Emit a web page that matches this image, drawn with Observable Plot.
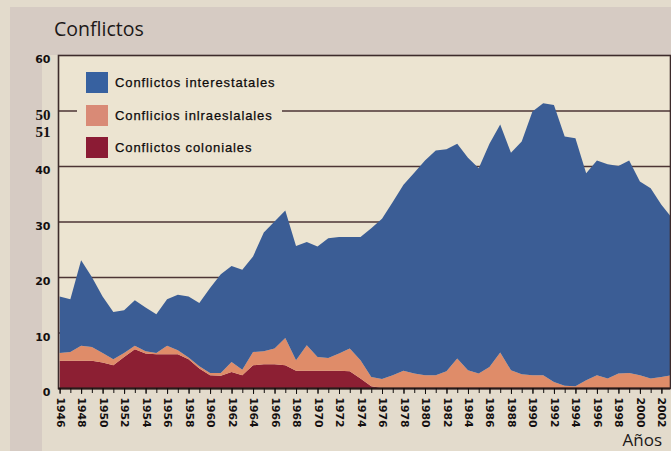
<!DOCTYPE html>
<html>
<head>
<meta charset="utf-8">
<script src="https://cdn.jsdelivr.net/npm/d3@7"></script>
<script src="https://cdn.jsdelivr.net/npm/@observablehq/plot@0.6"></script>
<style>
  html, body { margin: 0; padding: 0; background: #e2dacb; }
  #wrap { position: relative; width: 671px; height: 451px; background: #e3dbcc; overflow: hidden; }
  .band { position: absolute; background: #d6cbc3; }
  #chart { position: absolute; left: 0; top: 0; }
  #title { position: absolute; left: 54px; top: 15px; font: 19.5px "Open Sans", sans-serif; color: #1c1818; white-space: nowrap; }
  #xlabel { position: absolute; right: 9px; top: 431px; font: 17px/17px "Open Sans", sans-serif; color: #1c1818; }
  #legend { position: absolute; left: 77px; top: 64px; width: 205px; height: 96px; background: #ece4d1; overflow: visible; }
  .row { position: absolute; left: 9px; height: 22px; white-space: nowrap; }
  .sw { position: absolute; left: 0; top: 0; width: 22px; height: 21px; }
  .lab { position: absolute; left: 29px; top: 1px; font: 13px "Liberation Sans", Arial, sans-serif; letter-spacing: 0.9px; color: #0d0a0a; line-height: 20px; -webkit-text-stroke: 0.25px #0d0a0a; }
</style>
</head>
<body>
<div id="wrap">
  <div class="band" style="left:10px;top:7px;width:661px;height:48px"></div>
  <div class="band" style="left:10px;top:7px;width:32px;height:444px"></div>
  <div id="chart"></div>
  <div id="title">Conflictos</div>
  <div id="legend"></div>
  <div id="xlabel">Años</div>
</div>
<script>
// ---- data ----
const years = [1946,1947,1948,1949,1950,1951,1952,1953,1954,1955,1956,1957,1958,1959,1960,1961,1962,1963,1964,1965,1966,1967,1968,1969,1970,1971,1972,1973,1974,1975,1976,1977,1978,1979,1980,1981,1982,1983,1984,1985,1986,1987,1988,1989,1990,1991,1992,1993,1994,1995,1996,1997,1998,1999,2000,2001,2002,2003];

const colonial   = [4.9,4.9,4.9,4.9,4.6,4.1,5.6,7.0,6.2,6.1,6.1,6.1,5.2,3.5,2.3,2.2,2.9,2.3,4.1,4.3,4.3,4.1,3.1,3.1,3.1,3.1,3.1,3.0,1.7,0.3,0,0,0,0,0,0,0,0,0,0,0,0,0,0,0,0,0,0,0,0,0,0,0,0,0,0,0,0];
const intrastate = [1.4,1.6,2.7,2.5,1.7,1.1,0.7,0.6,0.4,0.2,1.5,0.7,0.3,0.4,0.4,0.5,1.8,1.0,2.4,2.3,2.8,4.9,1.9,4.6,2.5,2.3,3.1,4.1,3.3,1.7,1.6,2.3,3.1,2.6,2.3,2.3,3.0,5.3,3.2,2.6,3.8,6.4,3.2,2.5,2.3,2.3,1.1,0.4,0.3,1.4,2.3,1.7,2.6,2.7,2.3,1.7,2.0,2.3];
const interstate = [10.2,9.5,15.4,12.6,10.2,8.5,7.7,8.2,7.9,7.0,8.4,10.0,11.0,11.4,15.3,17.8,17.3,18.0,17.2,21.4,22.9,23.0,20.6,18.6,19.9,21.6,21.0,20.1,22.2,26.8,28.9,31.2,33.5,36.2,38.7,40.5,40.0,38.7,38.3,37.0,40.2,41.1,39.2,41.9,47.5,49.0,49.9,44.9,44.7,37.3,38.7,38.6,37.4,38.3,34.9,34.3,31.0,28.3];

const seriesNames  = ["Conflictos interestatales", "Conflicios inlraeslalales", "Conflictos coloniales"];
const seriesColors = ["#3b5d95", "#df8c69", "#8c1f33"];
const swatchColors = ["#3761a0", "#d98a76", "#8b1b34"];
const stackOrder   = ["Conflictos coloniales", "Conflicios inlraeslalales", "Conflictos interestatales"];

const xTickLabels = [1946,1948,1950,1952,1954,1956,1958,1960,1962,1964,1966,1968,1970,1972,1974,1976,1978,1980,1982,1984,1986,1988,1990,1992,1994,1996,1998,2000,2002];
const yTickLabels = [0,10,20,30,40,60];
const yDoubleLabel = [{value: 50, text: "50\n51"}];
const gridValues = [10,20,30,40,50];

// ---- table for the library ----
const table = [];
years.forEach((yr, i) => {
  table.push({year: yr, series: seriesNames[2], value: colonial[i]});
  table.push({year: yr, series: seriesNames[1], value: intrastate[i]});
  table.push({year: yr, series: seriesNames[0], value: interstate[i]});
});

const chart = Plot.plot({
  width: 671,
  height: 451,
  marginLeft: 58,
  marginRight: 1,
  marginTop: 55,
  marginBottom: 63,
  x: {domain: [1945.85, 2002.8], label: null},
  y: {domain: [0, 60], label: null},
  color: {domain: seriesNames, range: seriesColors},
  style: {background: "transparent", fontFamily: "DejaVu Sans", fontWeight: "bold", color: "#141010", overflow: "visible"},
  marks: [
    Plot.frame({fill: "#ece4d1", stroke: null}),
    Plot.ruleY(gridValues, {stroke: "#4d3535", strokeWidth: 1.6}),
    Plot.areaY(table, {x: "year", y: "value", fill: "series", order: stackOrder, clip: true}),
    Plot.frame({stroke: "#3d2b2b", strokeWidth: 1.6}),
    Plot.ruleY([0], {stroke: "#2a1a1a", strokeWidth: 2}),
    Plot.axisX(years.filter(d => d <= 2002), {tickSize: 5, tickFormat: () => "", label: null}),
    Plot.axisX(xTickLabels, {tickSize: 6, tickPadding: 3, tickRotate: 90, fontSize: 10.8, tickFormat: d => String(d), label: null}),
    Plot.axisY(yTickLabels, {tickSize: 0, tickPadding: 8, dy: 4, fontSize: 11, tickFormat: d => String(d), label: null}),
    Plot.text(yDoubleLabel, {
      x: () => 1945.85, y: "value", text: "text",
      textAnchor: "end", lineAnchor: "top", dx: -8, dy: -3, lineHeight: 1.15,
      fontFamily: "Liberation Serif", fontWeight: "bold", fontSize: 15, fill: "#141010"
    })
  ]
});
document.getElementById("chart").appendChild(chart);

// ---- legend (inside plot area, as in the reference) ----
const legend = document.getElementById("legend");
const rowTops = [8, 41, 73];
seriesNames.forEach((name, i) => {
  const row = document.createElement("div");
  row.className = "row";
  row.style.top = rowTops[i] + "px";
  const sw = document.createElement("div");
  sw.className = "sw";
  sw.style.background = swatchColors[i];
  const lab = document.createElement("div");
  lab.className = "lab";
  lab.textContent = name;
  row.appendChild(sw);
  row.appendChild(lab);
  legend.appendChild(row);
});
</script>
</body>
</html>
